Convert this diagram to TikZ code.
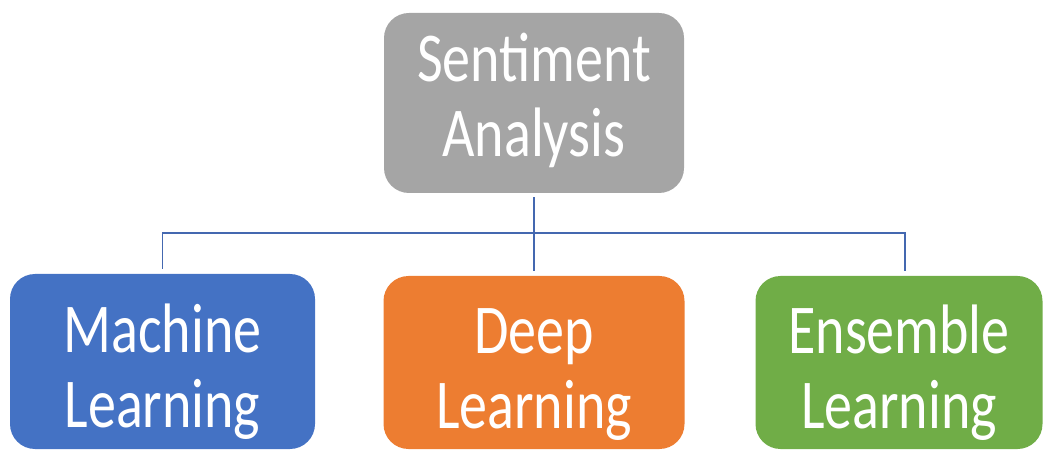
\documentclass[tikz,border=0pt]{standalone}
\usepackage{fontspec}
\newfontfamily\boxfont[FakeStretch=0.8]{Carlito}
\definecolor{sagray}{HTML}{A5A5A5}
\definecolor{mlblue}{HTML}{4472C4}
\definecolor{dlorange}{HTML}{ED7D31}
\definecolor{elgreen}{HTML}{70AD47}
\definecolor{linkblue}{HTML}{4468B0}
\tikzset{
  topic/.style={rounded corners=25pt, text=white, align=center,
    font=\boxfont\fontsize{70}{75}\selectfont, inner sep=0pt,
    text height=125pt, text depth=17pt},
  lowtopic/.style={topic, text height=148pt},
  link/.style={draw=linkblue, line width=1.5pt},
}

\begin{document}
\begin{tikzpicture}[x=1pt, y=1pt]
  \useasboundingbox (0,0) rectangle (1044,450);

  \node [topic, fill=sagray, minimum width=300pt, minimum height=180pt](sa) at (534,347) {Sentiment\\Analysis};
  \node [lowtopic, fill=mlblue, minimum width=305pt, minimum height=175pt](ml) at (162.5,88.5) {Machine\\Learning};
  \node [lowtopic, fill=dlorange, minimum width=301pt, minimum height=173pt](dl) at (534,87.5) {Deep\\Learning};
  \node [lowtopic, fill=elgreen, minimum width=287pt, minimum height=173pt](el) at (899,87.5) {Ensemble\\Learning};

  % branch point under the top box
  \coordinate (bar) at (534,217);

  \draw [link, shorten <=4pt] (sa.south) -- (bar);
  \draw [link, shorten >=5pt] (bar) -| (ml.north);
  \draw [link, shorten >=5pt] (bar) -- (dl.north);
  \draw [link, shorten >=5pt] (bar) -| ([xshift=6pt]el.north);
\end{tikzpicture}
\end{document}
